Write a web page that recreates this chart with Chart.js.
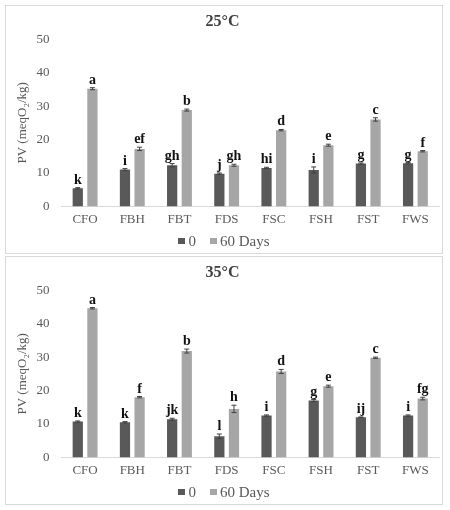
<!DOCTYPE html>
<html>
<head>
<meta charset="utf-8">
<script src="https://cdn.jsdelivr.net/npm/chart.js@4"></script>
<style>
  body { margin: 0; background: #fff; }
  .panel { position: absolute; left: 5px; width: 436px; height: 247px; border: 1px solid #d9d9d9; background: #fff; }
  #panel25 { top: 5px; }
  #panel35 { top: 256px; }
  .panel canvas { display: block; }
  .legend { position: absolute; left: 0; top: 226px; width: 100%; text-align: center;
            font: 15px "Liberation Serif", "Times New Roman", serif; color: #595959; line-height: 18px; }
  .legend .item { display: inline-block; margin: 0 7px; }
  .legend .box { display: inline-block; width: 7px; height: 6px; margin-right: 3px; vertical-align: 2px; }
</style>
</head>
<body>
<div class="panel" id="panel25"><canvas id="chart25" width="436" height="247"></canvas><div class="legend" id="legend25"></div></div>
<div class="panel" id="panel35"><canvas id="chart35" width="436" height="247"></canvas><div class="legend" id="legend35"></div></div>
<script>
const categories = ['CFO', 'FBH', 'FBT', 'FDS', 'FSC', 'FSH', 'FST', 'FWS'];
const seriesNames = ['0', '60 Days'];
const seriesColors = ['#595959', '#a6a6a6'];
const yTicks = [0, 10, 20, 30, 40, 50];

// 25°C
const day0_25 = [5.4, 11.0, 12.3, 9.8, 11.5, 10.9, 12.8, 12.9];
const day60_25 = [35.2, 17.2, 28.8, 12.3, 22.8, 18.3, 26.0, 16.5];
const err0_25 = [0.2, 0.3, 0.5, 0.2, 0.2, 0.9, 0.2, 0.2];
const err60_25 = [0.3, 0.5, 0.3, 0.3, 0.2, 0.3, 0.5, 0.2];
const letters0_25 = ['k', 'i', 'gh', 'j', 'hi', 'i', 'g', 'g'];
const letters60_25 = ['a', 'ef', 'b', 'gh', 'd', 'e', 'c', 'f'];

// 35°C
const day0_35 = [10.7, 10.5, 11.4, 6.3, 12.5, 17.0, 12.0, 12.5];
const day60_35 = [44.6, 18.0, 31.8, 14.5, 25.7, 21.3, 29.8, 17.6];
const err0_35 = [0.2, 0.2, 0.3, 0.7, 0.2, 0.3, 0.1, 0.2];
const err60_35 = [0.2, 0.2, 0.6, 1.1, 0.6, 0.3, 0.2, 0.4];
const letters0_35 = ['k', 'k', 'jk', 'l', 'i', 'g', 'ij', 'i'];
const letters60_35 = ['a', 'f', 'b', 'h', 'd', 'e', 'c', 'fg'];

const serif = '"Liberation Serif", "Times New Roman", serif';

// error bars + significance letters drawn on top of each bar
const barExtras = {
  id: 'barExtras',
  afterDatasetsDraw(chart) {
    const ctx = chart.ctx;
    const y = chart.scales.y;
    chart.data.datasets.forEach((ds, i) => {
      const meta = chart.getDatasetMeta(i);
      meta.data.forEach((bar, j) => {
        const v = ds.data[j];
        const e = ds.errors[j];
        const top = y.getPixelForValue(v + e);
        const bot = y.getPixelForValue(v - e);
        ctx.save();
        ctx.strokeStyle = '#404040';
        ctx.lineWidth = 1;
        ctx.beginPath();
        ctx.moveTo(bar.x, top);
        ctx.lineTo(bar.x, bot);
        ctx.moveTo(bar.x - 2.5, top);
        ctx.lineTo(bar.x + 2.5, top);
        ctx.moveTo(bar.x - 2.5, bot);
        ctx.lineTo(bar.x + 2.5, bot);
        ctx.stroke();
        ctx.fillStyle = '#111';
        ctx.font = 'bold 14px ' + serif;
        ctx.textAlign = 'center';
        ctx.textBaseline = 'alphabetic';
        ctx.fillText(ds.letters[j], bar.x, top - 4);
        ctx.restore();
      });
    });
  }
};

// small html legend under each chart, built from the datasets
function buildLegend(chart, legendId) {
  document.getElementById(legendId).innerHTML = chart.data.datasets.map(ds =>
    `<span class="item"><span class="box" style="background:${ds.backgroundColor}"></span>${ds.label}</span>`
  ).join('');
}

function makePanel(id, legendId, title, d0, d60, e0, e60, l0, l60) {
  const ctx = document.getElementById(id).getContext('2d');
  const chart = new Chart(ctx, {
    type: 'bar',
    data: {
      labels: categories,
      datasets: [
        { label: seriesNames[0], data: d0, errors: e0, letters: l0, backgroundColor: seriesColors[0] },
        { label: seriesNames[1], data: d60, errors: e60, letters: l60, backgroundColor: seriesColors[1] }
      ]
    },
    options: {
      responsive: false,
      animation: false,
      categoryPercentage: 0.62,
      barPercentage: 0.7,
      layout: { padding: { left: 0, right: 3, top: 6, bottom: 21 } },
      plugins: {
        title: {
          display: true,
          text: title,
          color: '#404040',
          font: { family: serif, size: 16, weight: 'bold' },
          padding: { top: 0, bottom: 8 }
        },
        legend: { display: false },
        tooltip: { enabled: false }
      },
      scales: {
        x: {
          grid: { display: false, drawTicks: false },
          border: { color: '#d9d9d9' },
          ticks: { color: '#595959', font: { family: serif, size: 13 }, padding: 5 }
        },
        y: {
          min: 0,
          max: 50,
          afterFit(scale) { scale.width = 55.5; },
          afterBuildTicks(scale) { scale.ticks = yTicks.map(v => ({ value: v })); },
          grid: { display: false, drawTicks: false },
          border: { display: false },
          ticks: { color: '#595959', font: { family: serif, size: 13 }, padding: 12 },
          title: {
            display: true,
            text: 'PV (meqO₂/kg)',
            color: '#595959',
            font: { family: serif, size: 13 },
            padding: { top: 9, bottom: 0 }
          }
        }
      }
    },
    plugins: [barExtras]
  });
  buildLegend(chart, legendId);
  return chart;
}

makePanel('chart25', 'legend25', '25°C', day0_25, day60_25, err0_25, err60_25, letters0_25, letters60_25);
makePanel('chart35', 'legend35', '35°C', day0_35, day60_35, err0_35, err60_35, letters0_35, letters60_35);
</script>
</body>
</html>
